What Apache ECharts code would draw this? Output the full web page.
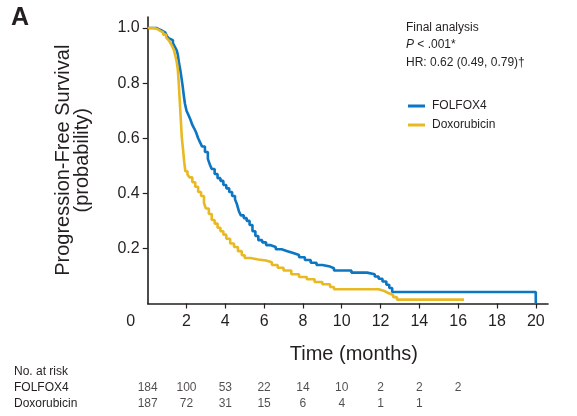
<!DOCTYPE html>
<html>
<head>
<meta charset="utf-8">
<script src="https://cdn.jsdelivr.net/npm/echarts@6/dist/echarts.min.js"></script>
<style>
html,body{margin:0;padding:0;background:#fff;}
#chart{width:577px;height:416px;}
</style>
</head>
<body>
<div id="chart"></div>
<script>
// ---- Data ----
const seriesNames = ['FOLFOX4', 'Doxorubicin'];

const folfoxTime = [0, 0.45, 0.6, 0.75, 0.9, 1.0, 1.1, 1.2, 1.3, 1.4, 1.5, 1.56, 1.62, 1.68, 1.74, 1.8, 1.86, 1.92, 2.0,
  2.1, 2.2, 2.3, 2.4, 2.5, 2.6, 2.7, 2.8, 2.95, 3.1, 3.2, 3.3, 3.45, 3.6, 3.75, 3.9, 4.05, 4.2, 4.35, 4.5, 4.6, 4.7,
  4.8, 4.95, 5.1, 5.25, 5.4, 5.55, 5.7, 5.9, 6.1, 6.3, 6.6, 6.9, 7.2, 7.5, 7.8, 8.1, 8.4, 8.7, 9.0, 9.4, 9.6, 10.5,
  11.3, 11.7, 11.9, 12.1, 12.3, 12.45, 12.6, 20];
const folfoxSurv = [1.0, 0.995, 0.99, 0.984, 0.978, 0.97, 0.962, 0.956, 0.945, 0.932, 0.918, 0.9, 0.87, 0.848, 0.82, 0.79, 0.755, 0.725, 0.7,
  0.684, 0.668, 0.648, 0.635, 0.62, 0.6, 0.585, 0.57, 0.55, 0.525, 0.505, 0.488, 0.47, 0.455, 0.445, 0.43, 0.418, 0.405, 0.39, 0.378, 0.36, 0.335,
  0.32, 0.31, 0.3, 0.285, 0.262, 0.245, 0.23, 0.222, 0.212, 0.205, 0.197, 0.19, 0.183, 0.176, 0.168, 0.158, 0.148, 0.14, 0.134, 0.128, 0.12, 0.112,
  0.106, 0.098, 0.09, 0.08, 0.068, 0.056, 0.042, 0];

const doxoTime = [0, 0.3, 0.5, 0.65, 0.8, 0.95, 1.05, 1.15, 1.25, 1.35, 1.42, 1.5, 1.55, 1.6, 1.64, 1.68, 1.72, 1.76, 1.82,
  1.88, 1.94, 2.05, 2.15, 2.3, 2.45, 2.6, 2.75, 2.9, 3.0, 3.15, 3.3, 3.45, 3.6, 3.75, 3.9, 4.05, 4.25, 4.45, 4.65,
  4.85, 5.0, 5.3, 5.7, 6.1, 6.4, 6.7, 7.0, 7.4, 7.8, 8.2, 8.6, 9.0, 9.4, 9.6, 11.9, 12.2, 12.4, 12.65, 12.85, 16.3];
const doxoSurv = [1.0, 0.996, 0.99, 0.984, 0.976, 0.966, 0.958, 0.948, 0.935, 0.92, 0.9, 0.875, 0.85, 0.8, 0.75, 0.7, 0.65, 0.6, 0.56,
  0.515, 0.48, 0.468, 0.458, 0.44, 0.424, 0.405, 0.39, 0.365, 0.345, 0.325, 0.303, 0.29, 0.275, 0.262, 0.25, 0.235, 0.218, 0.205, 0.19,
  0.175, 0.165, 0.16, 0.156, 0.15, 0.14, 0.13, 0.12, 0.106, 0.096, 0.088, 0.078, 0.07, 0.06, 0.052, 0.045, 0.038, 0.031, 0.023, 0.014, 0.014];

const xTickValues = [0, 2, 4, 6, 8, 10, 12, 14, 16, 18, 20];
const yTickValues = [0.2, 0.4, 0.6, 0.8, 1.0];

const atRiskTimes = [0, 2, 4, 6, 8, 10, 12, 14, 16];
const folfoxAtRisk = [184, 100, 53, 22, 14, 10, 2, 2, 2];
const doxoAtRisk = [187, 72, 31, 15, 6, 4, 1, 1];

const annotationLines = ['Final analysis', 'P < .001*', 'HR: 0.62 (0.49, 0.79)\u2020'];

// ---- Styling ----
const BLUE = '#0c76c3';
const GOLD = '#e8b923';
const INK = '#231f20';
const REG = "'Liberation Sans', Arial, Helvetica, sans-serif";

const pairs = (xs, ys) => xs.map((x, i) => [x, ys[i]]);
const riskPoints = (row, vals) => vals.map((v, i) => [atRiskTimes[i], row, v]);

const chart = echarts.init(document.getElementById('chart'), null, {renderer: 'canvas'});
chart.setOption({
  animation: false,
  backgroundColor: '#fff',
  grid: [
    {left: 147.7, right: 29, top: 17, bottom: 112.5, containLabel: false},
    {left: 147.7, right: 29, top: 380, height: 32, containLabel: false}
  ],
  xAxis: [
    {
      type: 'value', gridIndex: 0, min: 0, max: 20.63,
      name: 'Time (months)', nameLocation: 'middle', nameGap: 41,
      nameTextStyle: {fontFamily: REG, fontSize: 20, color: INK, padding: [0, 0, 0, 12]},
      axisLine: {show: true, onZero: false, lineStyle: {color: INK, width: 1.6}},
      axisTick: {show: true, length: 5, lineStyle: {color: INK, width: 1.2}, customValues: xTickValues.slice(1)},
      axisLabel: {
        customValues: xTickValues, margin: 10, fontFamily: REG, fontSize: 16, color: INK,
        formatter: v => v === 0 ? '{z|0}' : String(v),
        rich: {z: {fontFamily: REG, fontSize: 16, color: INK, padding: [0, 34, 0, 0]}}
      },
      splitLine: {show: false}
    },
    {type: 'value', gridIndex: 1, min: 0, max: 20.63, show: false}
  ],
  yAxis: [
    {
      type: 'value', gridIndex: 0, min: 0, max: 1.04,
      name: 'Progression-Free Survival\n(probability)', nameLocation: 'middle', nameGap: 56, nameRotate: 90,
      nameTextStyle: {fontFamily: REG, fontSize: 20, lineHeight: 19, color: INK, align: 'center'},
      axisLine: {show: true, onZero: false, lineStyle: {color: INK, width: 1.6}},
      axisTick: {show: true, length: 5, lineStyle: {color: INK, width: 1.2}, customValues: yTickValues},
      axisLabel: {customValues: yTickValues, margin: 8, fontFamily: REG, fontSize: 16, color: INK,
        formatter: v => v.toFixed(1)},
      splitLine: {show: false}
    },
    {
      type: 'category', gridIndex: 1, data: seriesNames, inverse: true,
      axisLine: {show: false}, axisTick: {show: false}, splitLine: {show: false},
      axisLabel: {show: true, interval: 0, align: 'left', margin: 133.7, fontFamily: REG, fontSize: 12, color: INK}
    }
  ],
  legend: {
    data: seriesNames, orient: 'vertical', left: 408, top: 100, padding: 0,
    icon: 'rect', itemWidth: 17, itemHeight: 3, itemGap: 7,
    textStyle: {fontFamily: REG, fontSize: 12, color: INK, padding: [0, 0, 0, 2]}
  },
  series: [
    {
      name: seriesNames[0], type: 'line', xAxisIndex: 0, yAxisIndex: 0, step: 'end', showSymbol: false,
      data: pairs(folfoxTime, folfoxSurv), lineStyle: {color: BLUE, width: 2.6}, itemStyle: {color: BLUE}, z: 3
    },
    {
      name: seriesNames[1], type: 'line', xAxisIndex: 0, yAxisIndex: 0, step: 'end', showSymbol: false,
      data: pairs(doxoTime, doxoSurv), lineStyle: {color: GOLD, width: 2.6}, itemStyle: {color: GOLD}, z: 4
    },
    {
      type: 'scatter', xAxisIndex: 1, yAxisIndex: 1, symbolSize: 1, itemStyle: {color: 'rgba(0,0,0,0)'},
      data: riskPoints(seriesNames[0], folfoxAtRisk).concat(riskPoints(seriesNames[1], doxoAtRisk)),
      label: {show: true, position: 'inside', formatter: p => String(p.value[2]),
        fontFamily: REG, fontSize: 12, color: INK, textBorderWidth: 0},
      silent: true
    }
  ],
  graphic: [
    {type: 'text', left: 11, top: 6, style: {text: 'A', fontFamily: REG, fontWeight: 'bold', fontSize: 25, fill: INK}},
    {type: 'text', left: 406, top: 22, style: {text: annotationLines[0], fontFamily: REG, fontSize: 12, fill: INK}},
    {type: 'text', left: 406, top: 39, style: {
      text: '{i|P}' + annotationLines[1].slice(1), fontFamily: REG, fontSize: 12, fill: INK,
      rich: {i: {fontFamily: REG, fontStyle: 'italic', fontSize: 12, fill: INK}}}},
    {type: 'text', left: 406, top: 57, style: {text: annotationLines[2], fontFamily: REG, fontSize: 12, fill: INK}},
    {type: 'text', left: 14, top: 366, style: {text: 'No. at risk', fontFamily: REG, fontSize: 12, fill: INK}}
  ]
});
</script>
</body>
</html>
